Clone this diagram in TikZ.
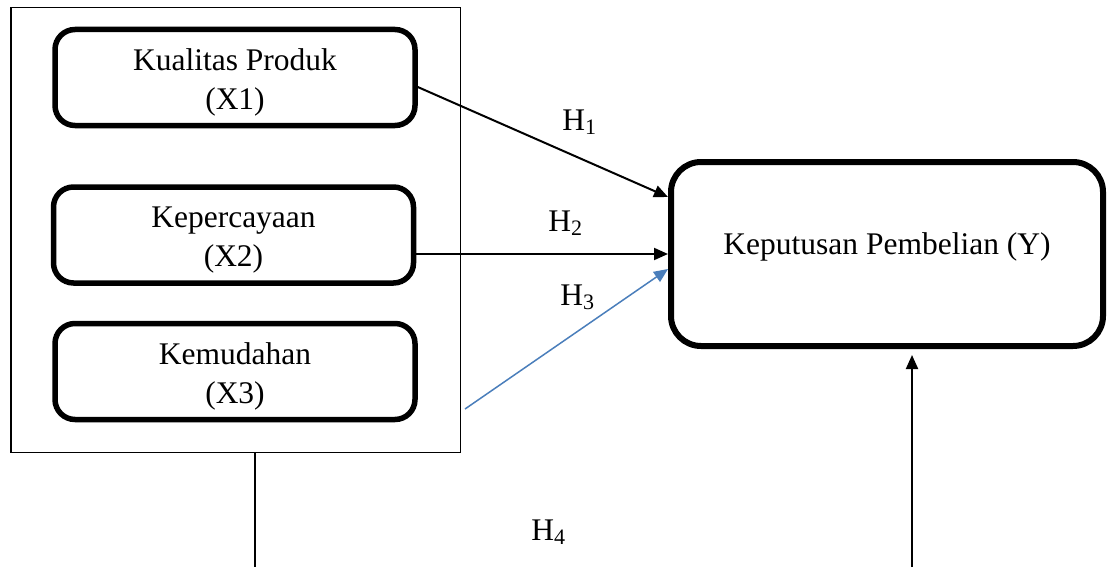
\documentclass[tikz,border=0pt]{standalone}
\usepackage{fontspec}
\setmainfont{Liberation Serif}
\usetikzlibrary{arrows.meta}
\definecolor{arrowblue}{RGB}{74,126,187}
\begin{document}
\begin{tikzpicture}[x=0.5pt,y=-0.5pt,
  txt/.style={font=\fontsize{15.75}{19.5}\selectfont, align=center, inner sep=0pt},
  varbox/.style={draw, line width=2.75pt, rounded corners=10pt, minimum width=180pt, minimum height=48pt, inner sep=0pt},
  ybox/.style={draw, line width=3pt, rounded corners=15pt, minimum width=216pt, minimum height=92pt, inner sep=0pt},
  grpbox/.style={draw, line width=0.75pt, minimum width=224.75pt, minimum height=222.25pt, inner sep=0pt},
  arr/.style={line width=1pt, -{Triangle[length=7pt,width=6pt]}},
  bluearr/.style={arrowblue, line width=0.75pt, -{Triangle[length=7pt,width=6pt]}},
  hlab/.style={font=\fontsize{15.75}{19.5}\selectfont, inner sep=0pt, anchor=base west}]
\useasboundingbox (0,0) rectangle (1107,567);
% group frame
\node[grpbox] (grp) at (235.5,230) {};
% variable boxes
\node[varbox] (x1) at (235,77.5) {};
\node[varbox] (x2) at (233.5,235) {};
\node[varbox] (x3) at (235,371.5) {};
\node[txt] (t1) at ([yshift=-2.5pt]x1.center) {Kualitas Produk\\(X1)};
\node[txt] (t2) at ([yshift=-2.5pt]x2.center) {Kepercayaan\\(X2)};
\node[txt] (t3) at ([yshift=-2.5pt]x3.center) {Kemudahan\\(X3)};
% dependent variable
\node[ybox] (y) at (887,254) {};
\node[txt] (ty) at (887,246.5) {Keputusan Pembelian (Y)};
% connector helper coordinates
\path (x1.east) ++(0,9.5) coordinate (h1s);
\path (y.west) ++(0,-57) coordinate (h1e);
\coordinate (h3s) at (465,409);
\path (y.west) ++(0,15) coordinate (h3e);
\coordinate (b1) at (255,567);
\coordinate (b2) at (912,567);
\path (b2 |- y.south) ++(0,6) coordinate (ytip);
% connectors
\draw[arr] (h1s) -- (h1e);
\draw[arr] (x2.east |- y.west) -- (y.west);
\draw[bluearr] (h3s) -- (h3e);
\draw[line width=1pt] (grp.south -| b1) -- (b1);
\draw[arr] (b2) -- (ytip);
% labels
\node[hlab] (l1) at (562,130) {H\textsubscript{1}};
\node[hlab] (l2) at (548,231) {H\textsubscript{2}};
\node[hlab] (l3) at (560,305) {H\textsubscript{3}};
\node[hlab] (l4) at (531,540) {H\textsubscript{4}};
\end{tikzpicture}
\end{document}
